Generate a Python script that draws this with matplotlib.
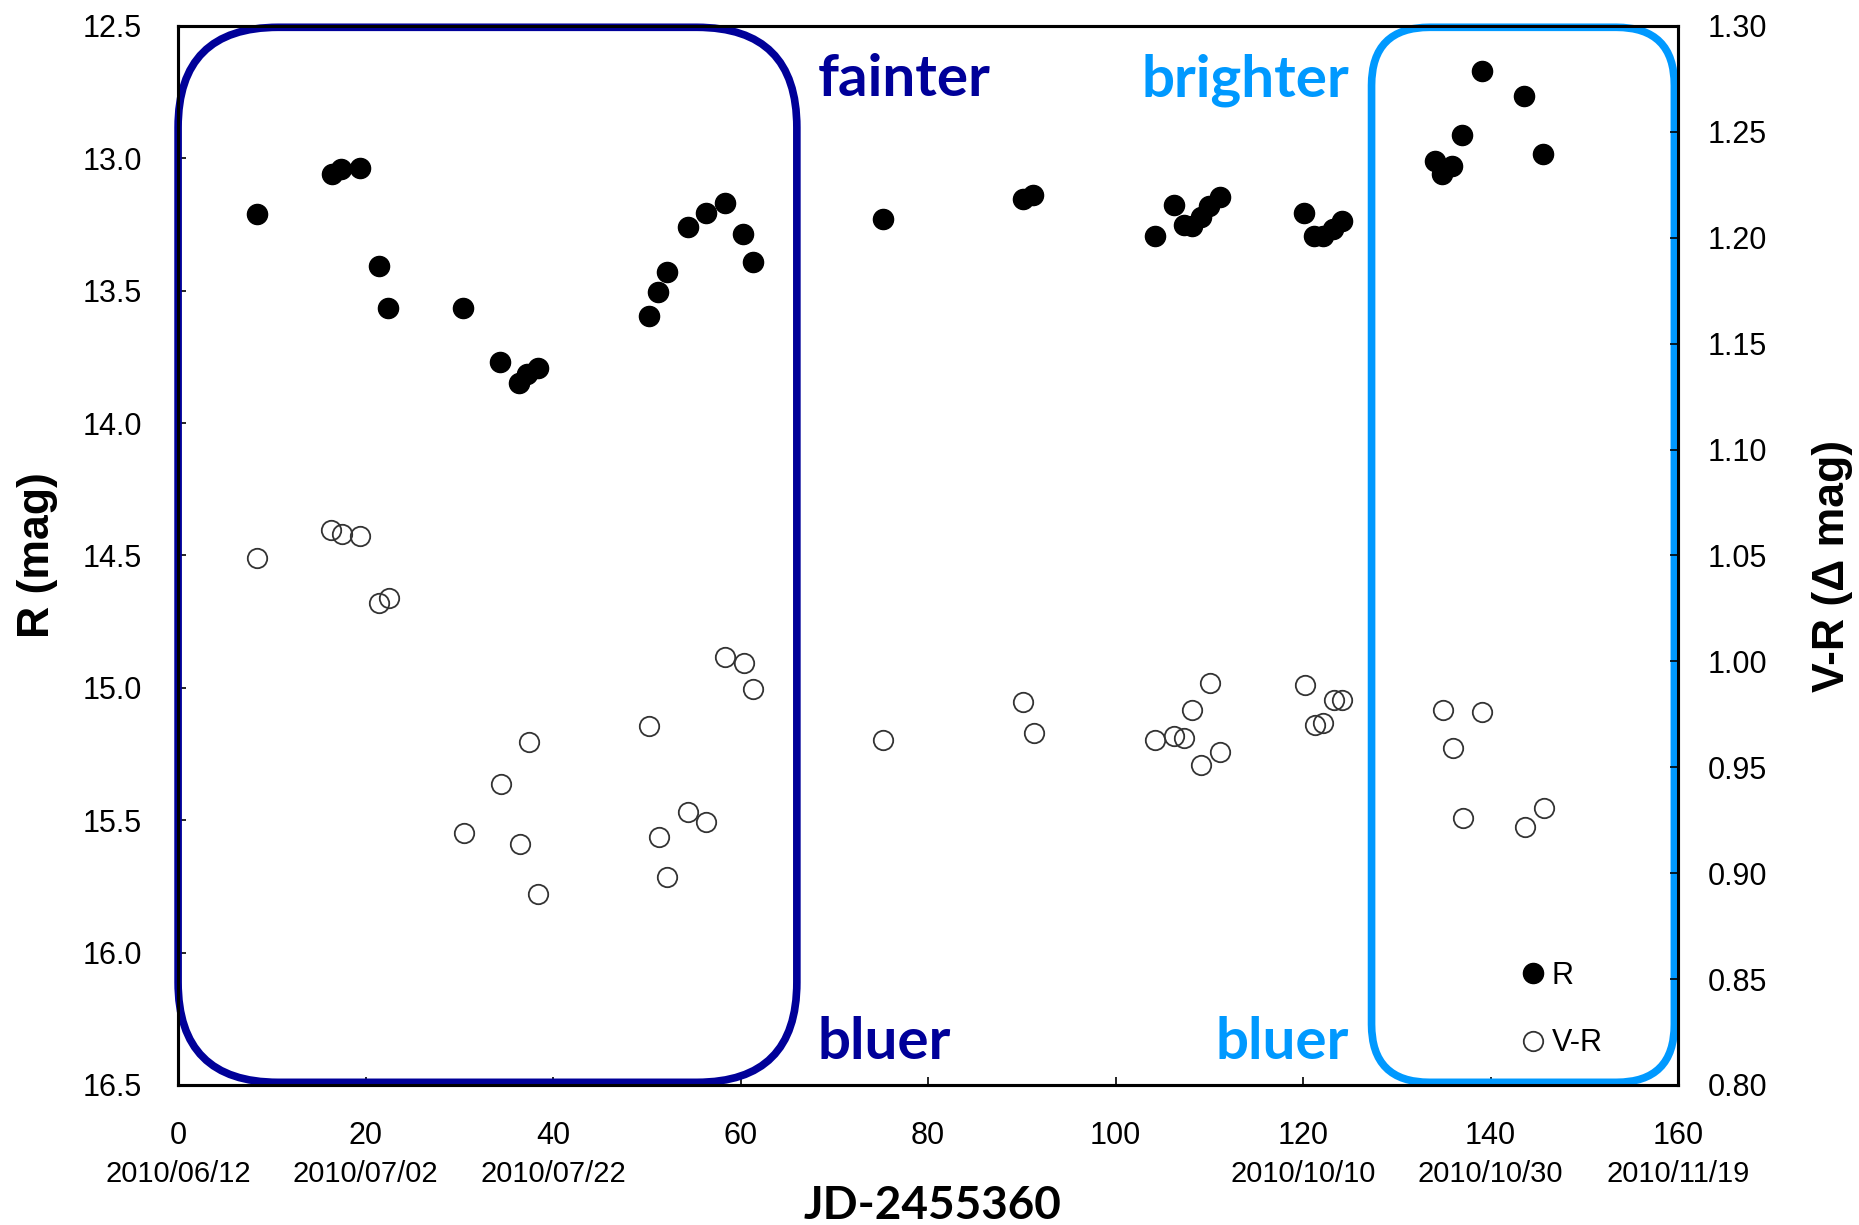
import numpy as np
import matplotlib.pyplot as plt
from matplotlib.patches import FancyBboxPatch
from matplotlib.lines import Line2D

plt.rcParams['font.family'] = ['Liberation Sans', 'DejaVu Sans']

# R band photometry (JD-2455360, mag)
jd_r = [8.4, 16.4, 17.4, 19.4, 21.4, 22.4, 30.4, 34.35, 36.4, 37.25, 38.35,
        50.2, 51.2, 52.1, 54.35, 56.35, 58.3, 60.25, 61.3,
        75.2, 90.1, 91.2,
        104.15, 106.2, 107.3, 108.1, 109.1, 110.0, 111.15,
        120.1, 121.2, 122.1, 123.2, 124.1,
        134.1, 134.85, 135.9, 137.0, 139.05, 143.6, 145.6]
r_mag = [13.21, 13.06, 13.04, 13.035, 13.405, 13.565, 13.565, 13.77, 13.85, 13.815, 13.79,
         13.595, 13.505, 13.43, 13.26, 13.205, 13.17, 13.285, 13.39,
         13.23, 13.155, 13.14,
         13.295, 13.175, 13.25, 13.255, 13.22, 13.18, 13.145,
         13.205, 13.295, 13.295, 13.265, 13.235,
         13.01, 13.06, 13.03, 12.91, 12.67, 12.765, 12.985]

# V-R colour
jd_vr = [8.4, 16.35, 17.45, 19.45, 21.4, 22.45, 30.45, 34.4, 36.45, 37.45, 38.4,
         50.25, 51.25, 52.15, 54.4, 56.35, 58.35, 60.35, 61.35,
         75.2, 90.15, 91.25,
         104.15, 106.2, 107.3, 108.1, 109.1, 110.05, 111.15,
         120.15, 121.25, 122.1, 123.25, 124.1,
         134.9, 136.0, 137.05, 139.1, 143.65, 145.65]
vr_mag = [1.049, 1.062, 1.060, 1.059, 1.0275, 1.030, 0.919, 0.942, 0.914, 0.962, 0.890,
          0.9695, 0.917, 0.898, 0.929, 0.924, 1.002, 0.999, 0.987,
          0.963, 0.981, 0.966,
          0.963, 0.965, 0.964, 0.977, 0.951, 0.990, 0.957,
          0.989, 0.970, 0.971, 0.982, 0.982,
          0.977, 0.959, 0.926, 0.976, 0.922, 0.931]

date_days = [0, 20, 40, 120, 140, 160]
date_labels = ['2010/06/12', '2010/07/02', '2010/07/22',
               '2010/10/10', '2010/10/30', '2010/11/19']

# highlighted periods (days) and their colours
box_days = [(0.0, 66.0), (127.3, 159.6)]
box_colors = ['#000099', '#0099FF']
box_radius_px = [100, 58]

dark = '#000099'
light = '#0099FF'

fig = plt.figure(figsize=(18.59, 12.25), dpi=100)
ax = fig.add_axes([0.0958, 0.1143, 0.8069, 0.8645])
ax2 = ax.twinx()

ax.set_xlim(0, 160)
ax.set_ylim(16.5, 12.5)
ax2.set_ylim(0.80, 1.30)

ax.plot(jd_r, r_mag, 'o', color='black', ms=14.5, zorder=3)
ax2.plot(jd_vr, vr_mag, 'o', mfc='none', mec='#333333', mew=1.3, ms=14)

ax.set_xticks(np.arange(0, 161, 20))
ax.set_yticks(np.arange(12.5, 16.51, 0.5))
ax.set_yticklabels(['%.1f' % v for v in np.arange(12.5, 16.51, 0.5)])
ax2.set_yticks(np.arange(0.80, 1.301, 0.05))
ax2.set_yticklabels(['%.2f' % v for v in np.arange(0.80, 1.301, 0.05)])

ax.tick_params(axis='both', direction='in', length=6, width=1.2, labelsize=22, pad=26)
ax.tick_params(axis='x', top=False)
ax2.tick_params(axis='y', direction='in', length=6, width=1.2, labelsize=22, pad=21)
for a in (ax, ax2):
    for sp in a.spines.values():
        sp.set_linewidth(2.2)

for day, lab in zip(date_days, date_labels):
    ax.text(day, -0.084, lab, transform=ax.get_xaxis_transform(),
            ha='center', va='center', fontsize=21)

ax.set_xlabel('JD-2455360', fontsize=33, fontweight='bold', family='Lato')
ax.xaxis.set_label_coords(0.503, -0.114)
ax.xaxis.label.set_va('center')
ax.set_ylabel('R (mag)', fontsize=32, fontweight='bold')
ax.yaxis.set_label_coords(-0.094, 0.5)
ax.yaxis.label.set_va('center')
ax2.set_ylabel('V-R (Δ mag)', fontsize=32, fontweight='bold')
ax2.yaxis.set_label_coords(1.103, 0.49)
ax2.yaxis.label.set_va('center')

# rounded boxes, corners kept circular on screen
p0 = ax.transData.transform((0, 12.5))
p1 = ax.transData.transform((1, 13.5))
px_day = p1[0] - p0[0]
px_mag = abs(p1[1] - p0[1])
asp = px_day / px_mag
for (d0, d1), col, rpx in zip(box_days, box_colors, box_radius_px):
    box = FancyBboxPatch((d0, 12.505), d1 - d0, 3.985,
                         boxstyle='round,pad=0,rounding_size=%f' % (rpx / px_day),
                         mutation_aspect=asp, transform=ax.transData,
                         fill=False, edgecolor=col, linewidth=5.5, clip_on=False)
    ax2.add_artist(box)

txt = dict(fontsize=42, fontweight='bold', family='Lato')
ax.text(68.2, 12.765, 'fainter', color=dark, ha='left', va='baseline', **txt)
ax.text(68.2, 16.40, 'bluer', color=dark, ha='left', va='baseline', **txt)
ax.text(124.9, 12.765, 'brighter', color=light, ha='right', va='baseline', **txt)
ax.text(124.9, 16.40, 'bluer', color=light, ha='right', va='baseline', **txt)

handles = [Line2D([], [], marker='o', ls='', color='black', ms=14.5),
           Line2D([], [], marker='o', ls='', mfc='none', mec='#333333', mew=1.3, ms=14)]
ax2.legend(handles, ['R', 'V-R'], loc='upper left', bbox_to_anchor=(0.893, 0.117),
           frameon=False, fontsize=22, handlelength=1, handletextpad=0.12,
           labelspacing=1.22, borderpad=0, borderaxespad=0)

fig.savefig('out.png', dpi=100)
